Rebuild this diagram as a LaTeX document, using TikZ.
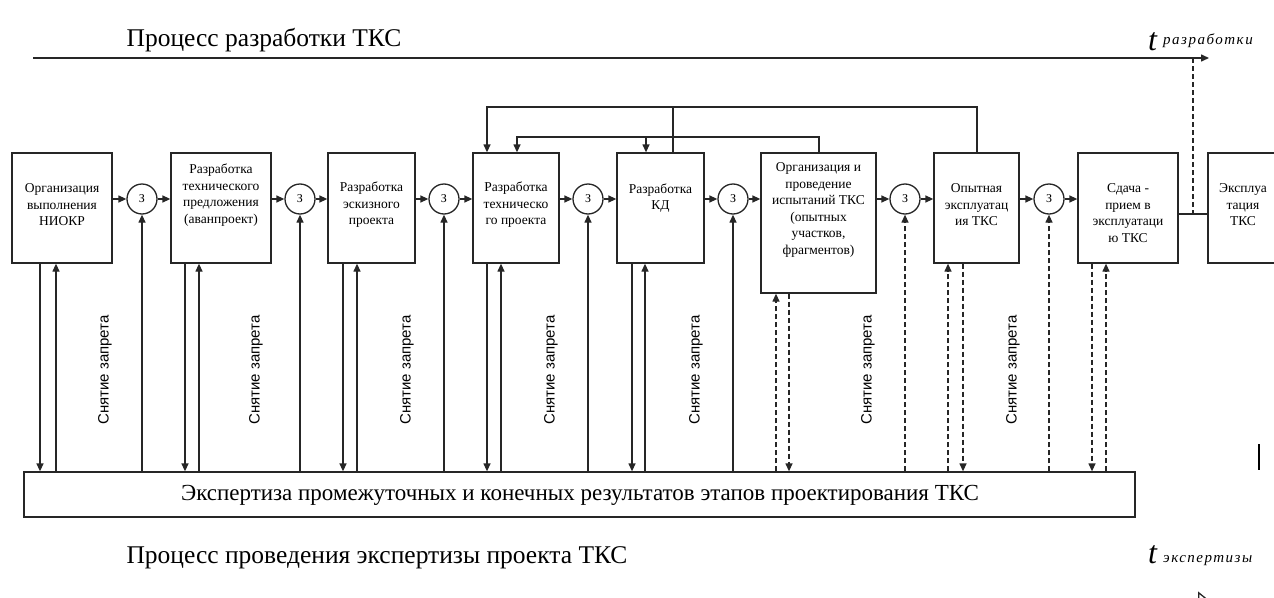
\documentclass[tikz,border=0pt]{standalone}
\usepackage{fontspec}
\setmainfont{Liberation Serif}
\newfontfamily\sansf{Liberation Sans}
\newfontfamily\subf[LetterSpace=10]{Liberation Serif}
\usetikzlibrary{arrows.meta}
\begin{document}
\begin{tikzpicture}[x=1pt,y=-1pt,
  arr/.style={-{Triangle[length=8pt,width=7pt]}},
  ln/.style={line width=1.3pt, draw=black!85},
  dsh/.style={dash pattern=on 5pt off 3pt},
  stagebox/.style={draw=black!85, line width=1.3pt, minimum height=110pt, inner sep=0pt},
  zcirc/.style={circle, draw=black!85, line width=1.3pt, minimum size=30pt, inner sep=0pt, font=\fontsize{12}{12}\selectfont},
  btext/.style={align=center, inner sep=0pt, font=\fontsize{13.5}{16.5}\selectfont},
  lbl/.style={rotate=90, inner sep=0pt, font=\sansf\fontsize{15}{17}\selectfont},
]
\useasboundingbox (0,0) rectangle (1274,597);

% titles and time axes
\node[inner sep=0pt, font=\fontsize{25.5}{28}\selectfont] (title1) at (264,40) {Процесс разработки ТКС};
\coordinate (axs) at (33,58);
\coordinate (axe) at (1209,58);
\draw[ln, line width=1.5pt, arr] (axs) -- (axe);
\node[inner sep=0pt, anchor=base west, font=\itshape\fontsize{32}{32}\selectfont] (tr) at (1148,50) {t};
\node[inner sep=0pt, anchor=base west, font=\subf\itshape\fontsize{15}{15}\selectfont] (trs) at (1163,44) {разработки};

% stage boxes
\node[stagebox, minimum width=100pt] (b1) at (62,208) {};
\node[stagebox, minimum width=100pt] (b2) at (221,208) {};
\node[stagebox, minimum width=87pt] (b3) at (371.5,208) {};
\node[stagebox, minimum width=86pt] (b4) at (516,208) {};
\node[stagebox, minimum width=87pt] (b5) at (660.5,208) {};
\node[stagebox, minimum width=115pt, minimum height=140pt] (b6) at (818.5,223) {};
\node[stagebox, minimum width=85pt] (b7) at (976.5,208) {};
\node[stagebox, minimum width=100pt] (b8) at (1128,208) {};
\node[stagebox, minimum width=90pt] (b9) at (1253,208) {};

\node[btext] (t1) at (62,205) {Организация\\выполнения\\НИОКР};
\node[btext] (t2) at (221,195) {Разработка\\технического\\предложения\\(аванпроект)};
\node[btext] (t3) at (371.5,205) {Разработка\\эскизного\\проекта};
\node[btext] (t4) at (516,205) {Разработка\\техническо\\го проекта};
\node[btext] (t5) at (660.5,198) {Разработка\\КД};
\node[btext] (t6) at (818.5,210) {Организация и\\проведение\\испытаний ТКС\\(опытных\\участков,\\фрагментов)};
\node[btext] (t7) at (976.5,205) {Опытная\\эксплуатац\\ия ТКС};
\node[btext] (t8) at (1128,213) {Сдача -\\прием в\\эксплуатаци\\ю ТКС};
\node[btext] (t9) at (1243,205) {Эксплуа\\тация\\ТКС};

% circles
\node[zcirc] (c1) at (142,199) {З};
\node[zcirc] (c2) at (300,199) {З};
\node[zcirc] (c3) at (444,199) {З};
\node[zcirc] (c4) at (588,199) {З};
\node[zcirc] (c5) at (733,199) {З};
\node[zcirc] (c6) at (905,199) {З};
\node[zcirc] (c7) at (1049,199) {З};

% horizontal flow
\foreach \b/\c/\n in {b1/c1/b2, b2/c2/b3, b3/c3/b4, b4/c4/b5, b5/c5/b6, b6/c6/b7, b7/c7/b8}{
  \draw[ln, arr] (\c.west -| \b.east) -- (\c.west);
  \draw[ln, arr] (\c.east) -- (\c.east -| \n.west);
}
\coordinate (h214) at (0,214);
\draw[ln] (b8.east |- h214) -- (b9.west |- h214);
\coordinate (vd) at (1193,0);
\draw[ln, dsh] (vd |- axs) -- (vd |- h214);

% feedback loops
\coordinate (topo) at (0,107);
\coordinate (topi) at (0,137);
\coordinate (vo7) at (977,0);
\coordinate (vo4) at (487,0);
\coordinate (vj) at (673,0);
\coordinate (vi6) at (819,0);
\coordinate (vi4) at (517,0);
\coordinate (vk) at (646,0);
\draw[ln, arr] (b7.north -| vo7) -- (vo7 |- topo) -- (vo4 |- topo) -- (b4.north -| vo4);
\draw[ln] (b5.north -| vj) -- (vj |- topo);
\draw[ln, arr] (b6.north -| vi6) -- (vi6 |- topi) -- (vi4 |- topi) -- (b4.north -| vi4);
\draw[ln, arr] (vk |- topi) -- (b5.north -| vk);

% expertise box
\node[draw=black!85, line width=1.3pt, minimum width=1111pt, minimum height=45pt, inner sep=0pt] (E) at (579.5,494.5) {};
\node[inner sep=0pt, font=\fontsize{23}{26}\selectfont] (Et) at (580,495) {Экспертиза промежуточных и конечных результатов этапов проектирования ТКС};

% vertical links (solid)
\foreach \b/\d/\u in {b1/40/56, b2/185/199, b3/343/357, b4/487/501, b5/632/645}{
  \coordinate (vdn) at (\d,0);
  \coordinate (vup) at (\u,0);
  \draw[ln, arr] (\b.south -| vdn) -- (E.north -| vdn);
  \draw[ln, arr] (E.north -| vup) -- (\b.south -| vup);
}
\foreach \c in {c1,c2,c3,c4,c5}{
  \draw[ln, arr] (E.north -| \c) -- (\c.south);
}
% vertical links (dashed)
\foreach \b/\d/\u in {b6/789/776, b7/963/948, b8/1092/1106}{
  \coordinate (vdn) at (\d,0);
  \coordinate (vup) at (\u,0);
  \draw[ln, dsh, arr] (\b.south -| vdn) -- (E.north -| vdn);
  \draw[ln, dsh, arr] (E.north -| vup) -- (\b.south -| vup);
}
\foreach \c in {c6,c7}{
  \draw[ln, dsh, arr] (E.north -| \c) -- (\c.south);
}

% labels
\foreach \x/\n in {105/s1, 256/s2, 407/s3, 551/s4, 696/s5, 868/s6, 1013/s7}{
  \node[lbl] (\n) at (\x,370) {Снятие запрета};
}

% bottom
\node[inner sep=0pt, font=\fontsize{25.5}{28}\selectfont] (title2) at (377,558) {Процесс проведения экспертизы проекта ТКС};
\node[inner sep=0pt, anchor=base west, font=\itshape\fontsize{32}{32}\selectfont] (te) at (1148,563) {t};
\node[inner sep=0pt, anchor=base west, font=\subf\itshape\fontsize{15}{15}\selectfont] (tes) at (1163,562) {экспертизы};
\coordinate (bar1) at (1259,444);
\coordinate (bar2) at (1259,470);
\draw[line width=2.5pt] (bar1) -- (bar2);
\coordinate (ax2s) at (1150,599.5);
\coordinate (ax2e) at (1208,599.5);
\draw[ln, -{Triangle[length=10pt,width=16pt,open]}] (ax2s) -- (ax2e);
\end{tikzpicture}
\end{document}
